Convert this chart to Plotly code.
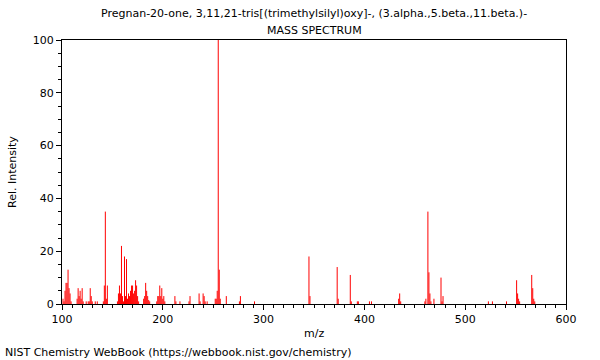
import plotly.graph_objects as go

mz = [101, 102, 103, 104, 105, 106, 107, 108, 109, 115, 116, 117, 118, 119, 120, 121, 124, 126, 127,
      128, 129, 130, 133, 135, 141, 142, 143, 144, 145, 155, 156, 157, 158, 159, 160, 161, 162, 163,
      164, 165, 166, 167, 168, 169, 170, 171, 172, 173, 174, 175, 176, 181, 182, 183, 184, 185, 186,
      187, 194, 195, 196, 197, 198, 199, 200, 201, 202, 212, 213, 217, 226, 227, 236, 237, 240, 241,
      242, 244, 252, 253, 254, 255, 256, 257, 263, 276, 277, 291, 345, 346, 373, 374, 386, 387, 393,
      394, 405, 407, 434, 435, 436, 460, 461, 463, 464, 465, 466, 469, 476, 477, 478, 523, 527, 541,
      551, 552, 553, 554, 566, 567, 568, 569]
intensity = [2, 1, 5, 8, 8, 13, 6, 4, 1, 2, 6, 3, 5, 2, 6, 1, 1, 1, 1,
             6, 3, 1, 1, 1, 1, 7, 35, 2, 7, 1, 4, 7, 4, 22, 3, 1, 18, 3,
             17, 2, 4, 3, 5, 7, 7, 4, 5, 9, 7, 3, 1, 2, 3, 8, 5, 3, 1.5,
             1, 1, 3, 3, 7, 3, 6, 2, 3, 1, 3, 1, 1, 1, 3, 4, 1, 4, 3,
             1, 1, 2, 2, 5, 100, 13, 2, 3, 1, 3, 1, 18, 3, 14, 2, 11, 1, 1,
             1, 1, 1, 2, 4, 1, 1, 2, 35, 12, 4, 1, 2, 10, 1, 3, 1, 1, 1,
             9, 4, 2, 1, 11, 6, 2, 1]

x_ticks = [100, 200, 300, 400, 500, 600]
y_ticks = [0, 20, 40, 60, 80, 100]
y_labels = ["0", "20", "40", "60", "80", "100"]

title1 = "Pregnan-20-one, 3,11,21-tris[(trimethylsilyl)oxy]-, (3.alpha.,5.beta.,11.beta.)-"
title2 = "MASS SPECTRUM"
footer = "NIST Chemistry WebBook (https://webbook.nist.gov/chemistry)"

font = "DejaVu Sans"

# stick spectrum built from the data lists
xs, ys = [], []
for m, v in zip(mz, intensity):
    xs += [m, m, None]
    ys += [0, v, None]

fig = go.Figure()
fig.add_trace(go.Scatter(x=xs, y=ys, mode="lines", line=dict(color="rgb(255,0,0)", width=1),
                         hoverinfo="skip", connectgaps=False))

fig.update_layout(
    width=600, height=360,
    margin=dict(l=62, r=34, t=40, b=56),
    paper_bgcolor="white", plot_bgcolor="white",
    showlegend=False,
    font=dict(family=font, size=11, color="black"),
)
fig.update_xaxes(
    range=[100, 600], tickvals=x_ticks, ticktext=[str(v) for v in x_ticks],
    showline=True, linecolor="black", linewidth=1, mirror=True,
    ticks="outside", ticklen=5, tickcolor="black", showgrid=False, zeroline=False,
    minor=dict(dtick=10, tick0=100, ticks="outside", ticklen=3, tickcolor="black", showgrid=False),
    tickfont=dict(family=font, size=11),
)
fig.update_yaxes(
    range=[0, 100], tickvals=y_ticks, ticktext=y_labels,
    showline=True, linecolor="black", linewidth=1, mirror=True,
    ticks="outside", ticklen=5, tickcolor="black", showgrid=False, zeroline=False,
    minor=dict(dtick=5, tick0=0, ticks="outside", ticklen=3, tickcolor="black", showgrid=False),
    tickfont=dict(family=font, size=11),
)

fig.add_annotation(text=title1, xref="paper", yref="paper", x=0.5, y=1, yshift=27,
                   showarrow=False, xanchor="center", yanchor="middle", font=dict(family=font, size=11))
fig.add_annotation(text=title2, xref="paper", yref="paper", x=0.5, y=1, yshift=10,
                   showarrow=False, xanchor="center", yanchor="middle", font=dict(family=font, size=11))
fig.add_annotation(text="m/z", xref="paper", yref="paper", x=0.5, y=0, yshift=-29,
                   showarrow=False, xanchor="center", yanchor="middle", font=dict(family=font, size=11))
fig.add_annotation(text="Rel. Intensity", xref="paper", yref="paper", x=0, xshift=-50, y=0.5,
                   textangle=-90, showarrow=False, xanchor="center", yanchor="middle",
                   font=dict(family=font, size=11))
fig.add_annotation(text=footer, xref="paper", yref="paper", x=0, xshift=-59, y=0, yshift=-48,
                   showarrow=False, xanchor="left", yanchor="middle", font=dict(family=font, size=11))

fig.write_html("out.html", config={"displayModeBar": False, "staticPlot": True},
               post_script="document.body.style.margin='0';")
